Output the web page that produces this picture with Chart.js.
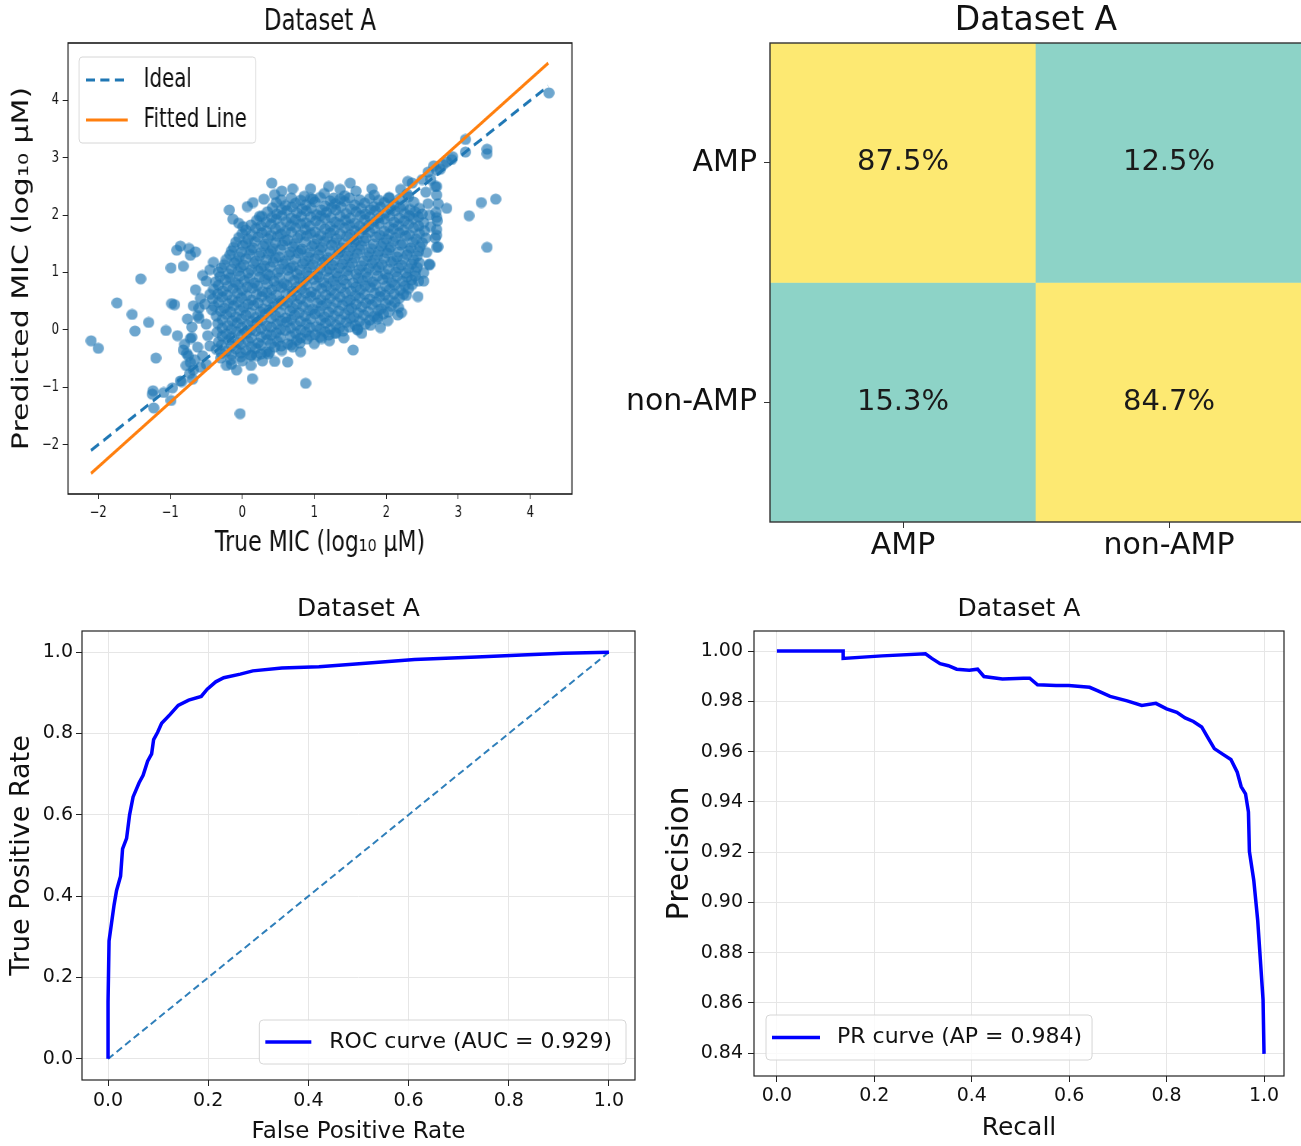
<!DOCTYPE html>
<html>
<head>
<meta charset="utf-8">
<title>Dataset A</title>
<script src="https://cdn.jsdelivr.net/npm/chart.js@4.4.1/dist/chart.umd.min.js"></script>
<style>
  html, body { margin: 0; padding: 0; background: #fff; overflow: hidden; }
  body { width: 1301px; height: 1146px; position: relative; }
  .panel { position: absolute; }
  /* the MIC panel is squeezed sideways like the source figure */
  #scatterBox { left: 0; top: 0; width: 790px; height: 570px; transform: scaleX(0.76); transform-origin: 0 0; }
  #cmBox { left: 600px; top: 0; width: 710px; height: 570px; }
  #rocBox { left: 0; top: 580px; width: 650px; height: 566px; }
  #prBox { left: 650px; top: 580px; width: 651px; height: 566px; }
</style>
</head>
<body>
<div class="panel" id="scatterBox"><canvas id="scatterChart" width="790" height="570"></canvas></div>
<div class="panel" id="cmBox"><canvas id="cmChart" width="710" height="570"></canvas></div>
<div class="panel" id="rocBox"><canvas id="rocChart" width="650" height="566"></canvas></div>
<div class="panel" id="prBox"><canvas id="prChart" width="651" height="566"></canvas></div>
<script>
// ---------- data ----------
var micTicks = [-2, -1, 0, 1, 2, 3, 4];
var idealX = [-2.1, 4.25];
var idealY = [-2.1, 4.25];
var fitX = [-2.1, 4.25];
var fitY = [-2.5, 4.65];

// [true MIC, predicted MIC]
var micPoints = [
  // outliers
  [-2.10,-0.19],[-2.00,-0.32],[-1.74,0.47],[-1.53,0.27],[-1.49,-0.02],[-1.41,0.89],[-1.30,0.13],[-1.20,-0.49],
  [-1.24,-1.06],[-1.23,-1.36],[-1.25,-1.12],[-1.06,-0.01],[-0.99,1.08],[-0.98,0.46],[-0.94,0.44],[-0.90,-0.10],
  [-0.99,-1.23],[-0.97,-1.01],[-0.86,-0.89],[-1.09,-1.09],[-0.91,1.39],[-0.86,1.46],[-0.74,1.42],[-0.65,1.36],
  [-0.72,1.30],[-0.82,1.11],[-0.77,-0.41],[-0.72,-0.57],[-0.68,-0.70],[-0.70,-0.13],[-0.60,0.38],[-0.18,2.09],
  [-0.13,1.93],[0.07,2.15],[0.41,2.56],[0.30,2.28],[0.01,1.80],[-0.03,-1.46],[0.14,-0.85],[0.00,-0.54],
  [-0.15,-0.60],[0.63,-0.56],[0.81,-0.38],[0.88,-0.93],[0.28,-0.54],[1.21,-0.19],[1.54,-0.35],[1.41,-0.14],
  [2.21,0.30],[2.28,0.60],[2.44,0.58],[2.52,0.85],[2.60,1.13],[2.70,1.44],[2.70,1.65],[2.70,1.96],
  [2.70,2.50],[2.84,2.12],[2.70,2.78],[2.79,2.88],[2.91,2.97],[3.10,3.32],[3.10,3.10],[3.40,3.15],
  [3.40,3.07],[3.15,1.99],[3.32,2.22],[3.52,2.28],[3.40,1.44],[4.26,4.13],[2.30,2.59],
  // left fringe
  [-0.65,0.70],[-0.58,0.55],[-0.62,0.25],[-0.70,0.05],[-0.72,-0.15],[-0.62,-0.30],[-0.55,-0.45],[-0.50,0.85],
  [-0.45,0.62],[-0.50,0.10],[-0.48,-0.10],[-0.42,0.35],[-0.45,-0.28],[-0.55,0.95],[-0.76,0.19],[-0.80,-0.25],
  [-0.66,-0.52],[-0.58,-0.65],[-0.50,-0.60],[-0.45,1.05],[-0.40,1.18],[-0.75,-0.45],[-0.82,-0.35],[-0.78,-0.62],
  [-0.73,-0.76],[-0.69,-0.86],[-0.84,-0.90],[-0.60,0.20],[-0.52,0.45],[-0.68,0.42],
  // bottom fringe
  [-0.22,-0.62],[-0.08,-0.70],[0.20,-0.45],[0.36,-0.42],[0.55,-0.36],[0.70,-0.30],[1.00,-0.24],[1.10,-0.15],
  [1.30,-0.06],[1.60,0.00],[1.78,0.08],[1.92,0.04],[2.02,0.16],[2.16,0.26],[1.66,-0.06],[0.45,-0.55],
  [0.12,-0.62],[1.88,0.22],
  // top fringe
  [0.15,2.22],[0.24,1.98],[-0.05,1.86],[0.55,2.42],[0.70,2.46],[0.95,2.46],[1.20,2.50],[1.50,2.56],
  [1.80,2.46],[2.20,2.45],[2.36,2.56],[1.36,2.45],
  // right fringe
  [2.68,2.50],[2.70,2.35],[2.72,2.20],[2.69,2.05],[2.71,1.90],[2.70,1.75],[2.68,1.60],[2.72,1.45],
  [2.62,2.62],[2.55,2.40],[2.58,2.20],[2.56,1.35],[2.60,1.15],[2.52,1.00],[2.45,0.85],[2.50,2.62],
  [2.58,2.75],[2.66,2.86],[2.75,2.80],[2.84,2.93],[2.92,3.02],[2.62,1.80],[2.60,2.00],[2.55,1.60],
  // dense core
  [0.45,2.36],[0.86,2.33],[0.98,2.28],[1.14,2.38],[1.27,2.30],[1.42,2.34],[1.58,2.42],[1.83,2.35],[2.04,2.31],[2.29,2.37],
  [0.54,2.27],[0.68,2.30],[0.81,2.26],[0.95,2.29],[1.08,2.31],[1.22,2.25],[1.36,2.28],[1.49,2.30],[1.63,2.27],
  [1.77,2.29],[1.90,2.26],[2.04,2.30],[2.18,2.28],[2.31,2.32],
  [0.47,2.22],[0.60,2.17],[0.74,2.21],[0.88,2.18],[1.01,2.23],[1.15,2.16],[1.29,2.20],[1.42,2.24],
  [1.56,2.18],[1.70,2.21],[1.83,2.15],[1.97,2.22],[2.11,2.19],[2.24,2.17],[2.38,2.23],
  [0.42,2.13],[0.55,2.10],[0.69,2.14],[0.83,2.11],[0.96,2.12],[1.10,2.09],[1.24,2.13],[1.37,2.15],
  [1.51,2.11],[1.65,2.12],[1.78,2.10],[1.92,2.14],[2.06,2.11],[2.19,2.13],[2.33,2.10],[2.46,2.12],
  [0.35,2.06],[0.48,2.02],[0.62,2.08],[0.76,2.04],[0.89,2.07],[1.03,2.01],[1.17,2.05],[1.30,2.09],[1.44,2.03],
  [1.58,2.06],[1.71,2.02],[1.85,2.08],[1.99,2.04],[2.12,2.07],[2.26,2.03],[2.40,2.06],[2.50,2.02],
  [0.27,1.98],[0.41,1.96],[0.55,1.99],[0.68,1.95],[0.82,1.98],[0.95,1.97],[1.09,1.99],[1.23,1.96],[1.36,1.98],
  [1.50,1.95],[1.64,1.99],[1.77,1.97],[1.91,1.96],[2.05,1.98],[2.18,1.95],[2.32,1.99],[2.45,1.97],
  [0.20,1.91],[0.33,1.88],[0.47,1.93],[0.61,1.89],[0.74,1.92],[0.88,1.87],[1.02,1.90],[1.15,1.94],[1.29,1.88],
  [1.43,1.91],[1.56,1.86],[1.70,1.92],[1.84,1.89],[1.97,1.93],[2.11,1.88],[2.25,1.90],[2.38,1.94],[2.52,1.87],
  [0.12,1.83],[0.26,1.81],[0.40,1.84],[0.53,1.80],[0.67,1.82],[0.81,1.85],[0.94,1.81],[1.08,1.83],[1.22,1.80],
  [1.35,1.84],[1.49,1.82],[1.63,1.81],[1.76,1.83],[1.90,1.85],[2.04,1.80],[2.17,1.82],[2.31,1.84],[2.45,1.81],
  [0.05,1.74],[0.19,1.77],[0.33,1.73],[0.46,1.76],[0.60,1.72],[0.74,1.78],[0.87,1.75],[1.01,1.71],[1.15,1.76],[1.28,1.74],
  [1.42,1.78],[1.56,1.73],[1.69,1.75],[1.83,1.77],[1.97,1.72],[2.10,1.76],[2.24,1.74],[2.38,1.78],[2.53,1.73],
  [0.00,1.68],[0.13,1.66],[0.27,1.69],[0.40,1.65],[0.54,1.67],[0.68,1.70],[0.81,1.66],[0.95,1.68],[1.09,1.65],[1.22,1.69],
  [1.36,1.67],[1.50,1.66],[1.63,1.68],[1.77,1.70],[1.91,1.65],[2.04,1.67],[2.18,1.69],[2.32,1.66],[2.46,1.68],
  [-0.05,1.61],[0.08,1.58],[0.22,1.62],[0.36,1.59],[0.49,1.63],[0.63,1.57],[0.77,1.60],[0.90,1.64],[1.04,1.58],[1.18,1.61],
  [1.31,1.59],[1.45,1.63],[1.59,1.57],[1.72,1.60],[1.86,1.62],[2.00,1.58],[2.13,1.61],[2.27,1.64],[2.41,1.59],
  [-0.09,1.53],[0.05,1.51],[0.18,1.54],[0.32,1.50],[0.46,1.52],[0.59,1.55],[0.73,1.51],[0.87,1.53],[1.00,1.50],[1.14,1.54],
  [1.28,1.52],[1.41,1.51],[1.55,1.53],[1.69,1.55],[1.82,1.50],[1.96,1.52],[2.10,1.54],[2.23,1.51],[2.37,1.53],[2.50,1.52],
  [-0.12,1.44],[0.01,1.47],[0.15,1.43],[0.29,1.46],[0.42,1.42],[0.56,1.48],[0.70,1.45],[0.83,1.41],[0.97,1.46],[1.11,1.44],
  [1.24,1.48],[1.38,1.43],[1.52,1.45],[1.65,1.47],[1.79,1.42],[1.93,1.46],[2.06,1.44],[2.20,1.48],[2.34,1.43],[2.47,1.45],
  [-0.15,1.38],[-0.01,1.36],[0.12,1.39],[0.26,1.35],[0.40,1.37],[0.53,1.40],[0.67,1.36],[0.81,1.38],[0.94,1.35],[1.08,1.39],
  [1.22,1.37],[1.35,1.36],[1.49,1.38],[1.63,1.40],[1.76,1.35],[1.90,1.37],[2.04,1.39],[2.17,1.36],[2.31,1.38],[2.45,1.37],
  [-0.17,1.31],[-0.04,1.28],[0.10,1.32],[0.24,1.29],[0.37,1.33],[0.51,1.27],[0.65,1.30],[0.78,1.34],[0.92,1.28],[1.06,1.31],
  [1.19,1.26],[1.33,1.32],[1.47,1.29],[1.60,1.33],[1.74,1.28],[1.88,1.30],[2.01,1.34],[2.15,1.27],[2.29,1.31],[2.43,1.29],
  [-0.22,1.23],[-0.08,1.21],[0.05,1.24],[0.19,1.20],[0.33,1.22],[0.46,1.25],[0.60,1.21],[0.74,1.23],[0.87,1.20],[1.01,1.24],
  [1.15,1.22],[1.28,1.21],[1.42,1.23],[1.56,1.25],[1.69,1.20],[1.83,1.22],[1.97,1.24],[2.10,1.21],[2.24,1.23],[2.38,1.22],
  [-0.25,1.14],[-0.11,1.17],[0.02,1.13],[0.16,1.16],[0.30,1.12],[0.43,1.18],[0.57,1.15],[0.71,1.11],[0.84,1.16],[0.98,1.14],[1.12,1.18],
  [1.25,1.13],[1.39,1.15],[1.53,1.17],[1.66,1.12],[1.80,1.16],[1.94,1.14],[2.07,1.18],[2.21,1.13],[2.35,1.15],[2.46,1.17],
  [-0.29,1.08],[-0.15,1.06],[-0.02,1.09],[0.12,1.05],[0.26,1.07],[0.39,1.10],[0.53,1.06],[0.67,1.08],[0.80,1.05],[0.94,1.09],[1.08,1.07],
  [1.21,1.06],[1.35,1.08],[1.49,1.10],[1.62,1.05],[1.76,1.07],[1.90,1.09],[2.03,1.06],[2.17,1.08],[2.31,1.07],[2.43,1.09],
  [-0.33,1.01],[-0.19,0.98],[-0.06,1.02],[0.08,0.99],[0.22,1.03],[0.35,0.97],[0.49,1.00],[0.63,1.04],[0.76,0.98],[0.90,1.01],[1.04,0.96],
  [1.17,1.02],[1.31,0.99],[1.45,1.03],[1.58,0.98],[1.72,1.00],[1.86,1.04],[1.99,0.97],[2.13,1.01],[2.27,0.99],[2.40,1.02],
  [-0.31,0.93],[-0.17,0.91],[-0.03,0.94],[0.10,0.90],[0.24,0.92],[0.38,0.95],[0.51,0.91],[0.65,0.93],[0.79,0.90],[0.92,0.94],[1.06,0.92],
  [1.20,0.91],[1.33,0.93],[1.47,0.95],[1.61,0.90],[1.74,0.92],[1.88,0.94],[2.02,0.91],[2.15,0.93],[2.29,0.92],[2.40,0.94],
  [-0.37,0.84],[-0.24,0.87],[-0.10,0.83],[0.03,0.86],[0.17,0.82],[0.31,0.88],[0.44,0.85],[0.58,0.81],[0.72,0.86],[0.85,0.84],[0.99,0.88],
  [1.13,0.83],[1.26,0.85],[1.40,0.87],[1.54,0.82],[1.67,0.86],[1.81,0.84],[1.95,0.88],[2.08,0.83],[2.22,0.85],[2.35,0.87],
  [-0.33,0.78],[-0.20,0.76],[-0.06,0.79],[0.07,0.75],[0.21,0.77],[0.35,0.80],[0.48,0.76],[0.62,0.78],[0.76,0.75],[0.89,0.79],[1.03,0.77],
  [1.17,0.76],[1.30,0.78],[1.44,0.80],[1.58,0.75],[1.71,0.77],[1.85,0.79],[1.99,0.76],[2.12,0.78],[2.26,0.77],[2.36,0.79],
  [-0.40,0.71],[-0.27,0.68],[-0.13,0.72],[0.00,0.69],[0.14,0.73],[0.28,0.67],[0.41,0.70],[0.55,0.74],[0.69,0.68],[0.82,0.71],[0.96,0.66],
  [1.10,0.72],[1.23,0.69],[1.37,0.73],[1.51,0.68],[1.64,0.70],[1.78,0.74],[1.92,0.67],[2.05,0.71],[2.19,0.69],[2.31,0.72],
  [-0.34,0.63],[-0.21,0.61],[-0.07,0.64],[0.06,0.60],[0.20,0.62],[0.34,0.65],[0.47,0.61],[0.61,0.63],[0.75,0.60],[0.88,0.64],
  [1.02,0.62],[1.16,0.61],[1.29,0.63],[1.43,0.65],[1.57,0.60],[1.70,0.62],[1.84,0.64],[1.98,0.61],[2.11,0.63],[2.24,0.62],
  [-0.41,0.54],[-0.28,0.57],[-0.14,0.53],[-0.01,0.56],[0.13,0.52],[0.27,0.58],[0.40,0.55],[0.54,0.51],[0.68,0.56],[0.81,0.54],
  [0.95,0.58],[1.09,0.53],[1.22,0.55],[1.36,0.57],[1.50,0.52],[1.63,0.56],[1.77,0.54],[1.91,0.58],[2.04,0.53],[2.18,0.55],
  [-0.33,0.48],[-0.19,0.46],[-0.06,0.49],[0.08,0.45],[0.22,0.47],[0.35,0.50],[0.49,0.46],[0.63,0.48],[0.76,0.45],[0.90,0.49],
  [1.04,0.47],[1.17,0.46],[1.31,0.48],[1.45,0.50],[1.58,0.45],[1.72,0.47],[1.86,0.49],[1.99,0.46],[2.12,0.48],
  [-0.39,0.41],[-0.25,0.38],[-0.12,0.42],[0.02,0.39],[0.16,0.43],[0.29,0.37],[0.43,0.40],[0.57,0.44],[0.70,0.38],[0.84,0.41],
  [0.98,0.36],[1.11,0.42],[1.25,0.39],[1.39,0.43],[1.52,0.38],[1.66,0.40],[1.80,0.44],[1.93,0.37],[2.07,0.41],[2.17,0.39],
  [-0.30,0.33],[-0.16,0.31],[-0.03,0.34],[0.11,0.30],[0.25,0.32],[0.38,0.35],[0.52,0.31],[0.66,0.33],[0.79,0.30],
  [0.93,0.34],[1.07,0.32],[1.20,0.31],[1.34,0.33],[1.48,0.35],[1.61,0.30],[1.75,0.32],[1.89,0.34],[2.03,0.31],
  [-0.36,0.24],[-0.22,0.27],[-0.09,0.23],[0.05,0.26],[0.19,0.22],[0.32,0.28],[0.46,0.25],[0.60,0.21],[0.73,0.26],
  [0.87,0.24],[1.01,0.28],[1.14,0.23],[1.28,0.25],[1.42,0.27],[1.55,0.22],[1.69,0.26],[1.83,0.24],[1.96,0.28],
  [-0.28,0.18],[-0.14,0.16],[-0.01,0.19],[0.13,0.15],[0.27,0.17],[0.40,0.20],[0.54,0.16],[0.68,0.18],[0.81,0.15],
  [0.95,0.19],[1.09,0.17],[1.22,0.16],[1.36,0.18],[1.50,0.20],[1.63,0.15],[1.77,0.17],[1.88,0.19],
  [-0.34,0.11],[-0.20,0.08],[-0.07,0.12],[0.07,0.09],[0.21,0.13],[0.34,0.07],[0.48,0.10],[0.62,0.14],
  [0.75,0.08],[0.89,0.11],[1.03,0.06],[1.16,0.12],[1.30,0.09],[1.44,0.13],[1.57,0.08],[1.71,0.10],
  [-0.28,0.03],[-0.15,0.01],[-0.01,0.04],[0.12,0.00],[0.26,0.02],[0.40,0.05],[0.53,0.01],[0.67,0.03],
  [0.81,0.00],[0.94,0.04],[1.08,0.02],[1.22,0.01],[1.35,0.03],[1.49,0.05],[1.60,0.02],
  [-0.35,-0.04],[-0.22,-0.07],[-0.08,-0.03],[0.06,-0.06],[0.19,-0.02],[0.33,-0.08],[0.47,-0.05],
  [0.60,-0.01],[0.74,-0.06],[0.88,-0.04],[1.01,-0.08],[1.15,-0.03],[1.29,-0.05],[1.40,-0.02],
  [-0.28,-0.11],[-0.15,-0.13],[-0.01,-0.10],[0.12,-0.14],[0.26,-0.12],[0.40,-0.09],[0.53,-0.13],[0.67,-0.11],
  [0.81,-0.14],[0.94,-0.10],[1.08,-0.12],[1.20,-0.09],
  [-0.33,-0.21],[-0.19,-0.18],[-0.06,-0.22],[0.08,-0.19],[0.22,-0.23],[0.35,-0.17],[0.49,-0.20],[0.63,-0.24],[0.76,-0.18],[0.90,-0.16],
  [-0.29,-0.26],[-0.15,-0.28],[-0.02,-0.25],[0.12,-0.29],[0.26,-0.27],[0.40,-0.24],[0.54,-0.28],[0.68,-0.26],[0.80,-0.23],
  [-0.36,-0.34],[-0.22,-0.37],[-0.09,-0.33],[0.05,-0.36],[0.19,-0.32],[0.33,-0.38],[0.45,-0.30],
  [-0.29,-0.41],[-0.15,-0.43],[-0.02,-0.40],[0.12,-0.44],[0.26,-0.42],[0.38,-0.39],
  [-0.30,-0.49],[-0.16,-0.52],[-0.02,-0.47],[0.12,-0.45]
];

var cmRows = ['AMP', 'non-AMP'];
var cmCols = ['AMP', 'non-AMP'];
var cmValues = [[87.5, 12.5], [15.3, 84.7]];

var rateTicks = [0, 0.2, 0.4, 0.6, 0.8, 1.0];
var rocFpr = [0, 0, 0.002, 0.007, 0.012, 0.017, 0.025, 0.029, 0.037, 0.043, 0.050, 0.062, 0.070, 0.079, 0.087, 0.091, 0.099,
  0.107, 0.124, 0.140, 0.161, 0.186, 0.198, 0.215, 0.231, 0.264, 0.289, 0.347, 0.421, 0.488, 0.612, 0.736, 0.826, 0.909, 1.0];
var rocTpr = [0, 0.14, 0.29, 0.334, 0.378, 0.414, 0.449, 0.516, 0.542, 0.600, 0.644, 0.679, 0.697, 0.732, 0.750, 0.785, 0.803,
  0.825, 0.847, 0.869, 0.882, 0.891, 0.909, 0.927, 0.937, 0.946, 0.954, 0.961, 0.964, 0.970, 0.982, 0.988, 0.993, 0.997, 1.0];
var chanceX = [0, 1];
var chanceY = [0, 1];
var rocAuc = 0.929;

var precisionTicks = [0.84, 0.86, 0.88, 0.90, 0.92, 0.94, 0.96, 0.98, 1.00];
var prRecall = [0, 0.136, 0.136, 0.216, 0.305, 0.318, 0.335, 0.352, 0.369, 0.395, 0.412, 0.425, 0.463, 0.506, 0.519, 0.535,
  0.573, 0.599, 0.642, 0.659, 0.684, 0.719, 0.749, 0.778, 0.800, 0.821, 0.838, 0.855, 0.872, 0.885, 0.898, 0.915, 0.932,
  0.945, 0.953, 0.962, 0.968, 0.970, 0.979, 0.987, 0.993, 0.998, 1.0];
var prPrecision = [1.000, 1.000, 0.9971, 0.9981, 0.9989, 0.9971, 0.9950, 0.9942, 0.9928, 0.9924, 0.9928, 0.9899, 0.9889,
  0.9892, 0.9892, 0.9866, 0.9863, 0.9863, 0.9856, 0.9842, 0.9820, 0.9802, 0.9784, 0.9792, 0.9770, 0.9756, 0.9734, 0.9720,
  0.9698, 0.9655, 0.9612, 0.9590, 0.9569, 0.9518, 0.9461, 0.9432, 0.9360, 0.9202, 0.9087, 0.8929, 0.8756, 0.8612, 0.8397];
var prAp = 0.984;

// ---------- helpers ----------
var FONT = "'DejaVu Sans', sans-serif";
Chart.defaults.font.family = FONT;
Chart.defaults.color = '#111';
Chart.defaults.animation = false;

var SQUEEZE = 0.76; // matches the css scaleX on #scatterBox

function toXY(xs, ys) {
  return xs.map(function (x, i) { return { x: x, y: ys[i] }; });
}
function fixedTicks(values) {
  return function (scale) {
    scale.ticks = values.map(function (v) { return { value: v }; });
  };
}
function minusFmt(v) {
  return String(v).replace('-', '\u2212');
}
// wide ellipse that turns back into a round dot once the panel is squeezed
function dotImage(r, color) {
  var rx = r / SQUEEZE, ry = r;
  var c = document.createElement('canvas');
  c.width = Math.ceil(rx * 2);
  c.height = Math.ceil(ry * 2);
  var g = c.getContext('2d');
  g.fillStyle = color;
  g.beginPath();
  g.ellipse(c.width / 2, c.height / 2, rx, ry, 0, 0, Math.PI * 2);
  g.fill();
  return c;
}

// axes box drawn over the data, like matplotlib spines
var framePlugin = {
  id: 'frame',
  afterDatasetsDraw: function (chart, args, opts) {
    var a = chart.chartArea, ctx = chart.ctx;
    ctx.save();
    ctx.strokeStyle = opts.color || '#222';
    ctx.lineWidth = opts.width || 1;
    ctx.strokeRect(a.left, a.top, a.right - a.left, a.bottom - a.top);
    ctx.restore();
  }
};

// legend box inside the plot area
var boxLegendPlugin = {
  id: 'boxLegend',
  afterDraw: function (chart, args, o) {
    var ctx = chart.ctx, a = chart.chartArea;
    var items = chart.data.datasets.filter(function (d) { return d.label && !d.noLegend; });
    if (!items.length) return;
    ctx.save();
    ctx.font = o.fontSize + 'px ' + FONT;
    var textW = 0;
    items.forEach(function (d) { textW = Math.max(textW, ctx.measureText(d.label).width); });
    var w = o.padLeft + o.lineLength + o.gap + textW + o.padRight;
    var h = o.padTop * 2 + items.length * o.rowHeight;
    var x = o.align === 'right' ? a.right - o.offsetX - w : a.left + o.offsetX;
    var y = o.valign === 'bottom' ? a.bottom - o.offsetY - h : a.top + o.offsetY;
    ctx.beginPath();
    ctx.roundRect(x, y, w, h, 4);
    ctx.fillStyle = 'rgba(255,255,255,0.8)';
    ctx.fill();
    ctx.strokeStyle = '#d6d6d6';
    ctx.lineWidth = 1;
    ctx.stroke();
    items.forEach(function (d, i) {
      var cy = y + o.padTop + o.rowHeight * (i + 0.5);
      ctx.beginPath();
      ctx.setLineDash(d.borderDash || []);
      ctx.strokeStyle = d.borderColor;
      ctx.lineWidth = d.borderWidth;
      ctx.moveTo(x + o.padLeft, cy);
      ctx.lineTo(x + o.padLeft + o.lineLength, cy);
      ctx.stroke();
      ctx.setLineDash([]);
      ctx.fillStyle = '#111';
      ctx.textBaseline = 'middle';
      ctx.textAlign = 'left';
      ctx.fillText(d.label, x + o.padLeft + o.lineLength + o.gap, cy);
    });
    ctx.restore();
  }
};

// percentages written in the confusion-matrix cells
var cellLabelPlugin = {
  id: 'cellLabels',
  afterDatasetsDraw: function (chart, args, o) {
    var ctx = chart.ctx;
    ctx.save();
    ctx.font = o.fontSize + 'px ' + FONT;
    ctx.fillStyle = '#1a1a1a';
    ctx.textAlign = 'center';
    ctx.textBaseline = 'middle';
    chart.data.datasets.forEach(function (ds, i) {
      chart.getDatasetMeta(i).data.forEach(function (bar, j) {
        ctx.fillText(ds.cellText[j], bar.x, (bar.y + bar.base) / 2);
      });
    });
    ctx.restore();
  }
};

// ---------- MIC regression scatter ----------
new Chart(document.getElementById('scatterChart'), {
  type: 'scatter',
  data: {
    datasets: [
      { label: 'Ideal', data: toXY(idealX, idealY), showLine: true, borderColor: '#1f77b4', borderWidth: 3.2,
        borderDash: [12, 7], pointRadius: 0, order: 1 },
      { label: 'Fitted Line', data: toXY(fitX, fitY), showLine: true, borderColor: '#ff7f0e', borderWidth: 3.2,
        pointRadius: 0, order: 0 },
      { data: micPoints.map(function (p) { return { x: p[0], y: p[1] }; }), pointRadius: 5,
        pointStyle: dotImage(5.6, 'rgba(31,119,180,0.65)'), order: 2 }
    ]
  },
  options: {
    responsive: false,
    layout: { padding: { left: 0, right: 37.4, top: 0, bottom: 0 } },
    plugins: {
      legend: { display: false },
      tooltip: { enabled: false },
      title: { display: true, text: 'Dataset A', fullSize: false, font: { size: 30, weight: 'normal' },
        color: '#111', padding: { top: 4, bottom: 3 } },
      frame: { color: '#1a1a1a', width: 1.6 },
      boxLegend: { align: 'left', valign: 'top', offsetX: 14.5, offsetY: 14, padLeft: 9, lineLength: 55, gap: 21,
        padRight: 12, padTop: 3, rowHeight: 40, fontSize: 26 }
    },
    scales: {
      x: {
        type: 'linear', min: -2.42, max: 4.58,
        afterBuildTicks: fixedTicks(micTicks),
        afterFit: function (s) { s.height = 76; },
        ticks: { font: { size: 15 }, padding: 5, color: '#111', callback: minusFmt },
        grid: { drawOnChartArea: false, tickLength: 5, tickColor: '#222' },
        border: { display: false },
        title: { display: true, text: 'True MIC (log\u2081\u2080 \u03bcM)', font: { size: 29 }, color: '#111',
          padding: { top: 0, bottom: 9.6 } }
      },
      y: {
        type: 'linear', min: -2.86, max: 5.0,
        afterBuildTicks: fixedTicks(micTicks),
        afterFit: function (s) { s.width = 89.5; },
        ticks: { font: { size: 15 }, padding: 5, color: '#111', callback: minusFmt },
        grid: { drawOnChartArea: false, tickLength: 7, tickColor: '#222' },
        border: { display: false },
        title: { display: true, text: 'Predicted MIC (log\u2081\u2080 \u03bcM)', font: { size: 30 }, color: '#111',
          padding: { top: 11, bottom: 0 } }
      }
    }
  },
  plugins: [framePlugin, boxLegendPlugin]
});

// ---------- confusion matrix ----------
var cmHigh = '#fde972';
var cmLow = '#8dd3c7';
new Chart(document.getElementById('cmChart'), {
  type: 'bar',
  data: {
    labels: cmCols,
    datasets: cmRows.map(function (row, i) {
      var top = cmRows.length - i;
      return {
        label: row,
        data: cmValues[i].map(function () { return [top - 1, top]; }),
        backgroundColor: cmValues[i].map(function (v) { return v >= 50 ? cmHigh : cmLow; }),
        cellText: cmValues[i].map(function (v) { return v.toFixed(1) + '%'; }),
        borderWidth: 0, barPercentage: 1, categoryPercentage: 1, grouped: false
      };
    })
  },
  options: {
    responsive: false,
    layout: { padding: { left: 0, right: 8, top: 0, bottom: 0 } },
    plugins: {
      legend: { display: false },
      tooltip: { enabled: false },
      title: { display: true, text: 'Dataset A', fullSize: false, font: { size: 33, weight: 'normal' },
        color: '#111', padding: { top: 2, bottom: 1.4 } },
      frame: { color: '#333', width: 1.4 },
      cellLabels: { fontSize: 29 }
    },
    scales: {
      x: {
        afterFit: function (s) { s.height = 48; },
        ticks: { font: { size: 30 }, padding: 0, color: '#111' },
        grid: { offset: false, drawOnChartArea: false, tickLength: 6, tickColor: '#333' },
        border: { display: false }
      },
      y: {
        type: 'linear', min: 0, max: cmRows.length,
        afterBuildTicks: function (s) {
          s.ticks = cmRows.map(function (r, i) { return { value: cmRows.length - i - 0.5 }; });
        },
        afterFit: function (s) { s.width = 170; },
        ticks: { font: { size: 30 }, padding: 7, color: '#111',
          callback: function (v) { return cmRows[cmRows.length - 1 - Math.floor(v)]; } },
        grid: { drawOnChartArea: false, tickLength: 6, tickColor: '#333' },
        border: { display: false }
      }
    }
  },
  plugins: [framePlugin, cellLabelPlugin]
});

// ---------- ROC ----------
var gridGrey = '#e6e6e6';
new Chart(document.getElementById('rocChart'), {
  type: 'scatter',
  data: {
    datasets: [
      { label: 'ROC curve (AUC = ' + rocAuc.toFixed(3) + ')', data: toXY(rocFpr, rocTpr), showLine: true,
        borderColor: '#0000ff', borderWidth: 3.5, pointRadius: 0, order: 0 },
      { data: toXY(chanceX, chanceY), showLine: true, borderColor: '#2f7fba', borderWidth: 2, borderDash: [7, 4],
        pointRadius: 0, order: 1 }
    ]
  },
  options: {
    responsive: false,
    layout: { padding: { left: 0, right: 15, top: 0, bottom: 0 } },
    plugins: {
      legend: { display: false },
      tooltip: { enabled: false },
      title: { display: true, text: 'Dataset A', fullSize: false, font: { size: 25, weight: 'normal' },
        color: '#111', padding: { top: 14, bottom: 7 } },
      frame: { color: '#222', width: 1.2 },
      boxLegend: { align: 'right', valign: 'bottom', offsetX: 9, offsetY: 16, padLeft: 6, lineLength: 46, gap: 18,
        padRight: 14, padTop: 2, rowHeight: 40, fontSize: 22 }
    },
    scales: {
      x: {
        type: 'linear', min: -0.052, max: 1.052,
        afterBuildTicks: fixedTicks(rateTicks),
        afterFit: function (s) { s.height = 66; },
        ticks: { font: { size: 19 }, padding: 4, color: '#111', callback: function (v) { return v.toFixed(1); } },
        grid: { color: gridGrey, tickColor: '#222', tickLength: 6 },
        border: { display: false },
        title: { display: true, text: 'False Positive Rate', font: { size: 23 }, color: '#111', padding: { top: 0, bottom: 0 } }
      },
      y: {
        type: 'linear', min: -0.052, max: 1.052,
        afterBuildTicks: fixedTicks(rateTicks),
        afterFit: function (s) { s.width = 82; },
        ticks: { font: { size: 19 }, padding: 3, color: '#111', callback: function (v) { return v.toFixed(1); } },
        grid: { color: gridGrey, tickColor: '#222', tickLength: 6 },
        border: { display: false },
        title: { display: true, text: 'True Positive Rate', font: { size: 27 }, color: '#111', padding: { top: 5.8, bottom: 0 } }
      }
    }
  },
  plugins: [framePlugin, boxLegendPlugin]
});

// ---------- Precision-Recall ----------
new Chart(document.getElementById('prChart'), {
  type: 'scatter',
  data: {
    datasets: [
      { label: 'PR curve (AP = ' + prAp.toFixed(3) + ')', data: toXY(prRecall, prPrecision), showLine: true,
        borderColor: '#0000ff', borderWidth: 3.5, pointRadius: 0 }
    ]
  },
  options: {
    responsive: false,
    layout: { padding: { left: 0, right: 17, top: 0, bottom: 0 } },
    plugins: {
      legend: { display: false },
      tooltip: { enabled: false },
      title: { display: true, text: 'Dataset A', fullSize: false, font: { size: 25, weight: 'normal' },
        color: '#111', padding: { top: 14, bottom: 7 } },
      frame: { color: '#222', width: 1.2 },
      boxLegend: { align: 'left', valign: 'bottom', offsetX: 12, offsetY: 16, padLeft: 6, lineLength: 48, gap: 17,
        padRight: 10, padTop: 2, rowHeight: 41, fontSize: 22 }
    },
    scales: {
      x: {
        type: 'linear', min: -0.047, max: 1.041,
        afterBuildTicks: fixedTicks(rateTicks),
        afterFit: function (s) { s.height = 70; },
        ticks: { font: { size: 19 }, padding: 3, color: '#111', callback: function (v) { return v.toFixed(1); } },
        grid: { color: gridGrey, tickColor: '#222', tickLength: 6 },
        border: { display: false },
        title: { display: true, text: 'Recall', font: { size: 25 }, color: '#111', padding: { top: 0, bottom: 3 } }
      },
      y: {
        type: 'linear', min: 0.8309, max: 1.008,
        afterBuildTicks: fixedTicks(precisionTicks),
        afterFit: function (s) { s.width = 104; },
        ticks: { font: { size: 19 }, padding: 5, color: '#111', callback: function (v) { return v.toFixed(2); } },
        grid: { color: gridGrey, tickColor: '#222', tickLength: 6 },
        border: { display: false },
        title: { display: true, text: 'Precision', font: { size: 30 }, color: '#111', padding: { top: 12, bottom: 0 } }
      }
    }
  },
  plugins: [framePlugin, boxLegendPlugin]
});
</script>
</body>
</html>
